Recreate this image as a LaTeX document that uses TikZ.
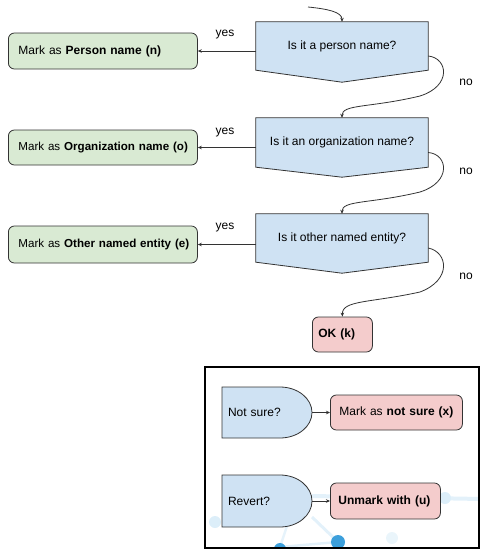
\documentclass[tikz,border=0pt]{standalone}
\usepackage{fontspec}
\setmainfont{Liberation Sans}
\usetikzlibrary{arrows.meta,backgrounds,calc}
\definecolor{qblue}{HTML}{CFE2F3}
\definecolor{qgreen}{HTML}{D9EAD3}
\definecolor{qpink}{HTML}{F4CCCC}
\definecolor{edge}{HTML}{333333}
\definecolor{wmline}{HTML}{DCEEF9}
\definecolor{wmdot}{HTML}{3C9FDB}
\hbadness=10000 \hfuzz=50pt
\begin{document}
\begin{tikzpicture}[x=1pt,y=-1pt,
  font=\fontsize{12}{14}\selectfont,
  arr/.style={draw=edge,line width=0.7pt,-{Stealth[length=4pt,width=3.5pt]}},
  conn/.style={draw=edge,line width=0.8pt,-{Stealth[length=4pt,width=3.5pt]}},
  decision/.style={inner sep=0pt,minimum width=172pt,minimum height=48pt},
  greenbox/.style={draw=edge,fill=qgreen,line width=0.8pt,rounded corners=6pt,
     text width=179pt,inner xsep=5pt,align=left,minimum height=36pt,anchor=west},
  pinkbox/.style={draw=edge,fill=qpink,line width=0.8pt,rounded corners=6pt,
     align=left,minimum height=35pt,anchor=west,inner xsep=4pt},
  half/.style={inner sep=0pt,minimum width=90pt,text width=78pt,align=left},
  lbl/.style={inner sep=0pt}
]
\useasboundingbox (0,0) rectangle (483,549);

% ---- decisions ----
\node[decision] (d1) at (342,46) {Is it a person name?};
\node[decision,minimum height=49pt] (d2) at (342,142.5) {Is it an organization name?};
\node[decision] (d3) at (342,238) {\raisebox{-3pt}{Is it other named entity?}};

\begin{scope}[on background layer]
\foreach \d/\p in {d1/12,d2/10,d3/11}{
  \filldraw[fill=qblue,draw=edge,line width=0.8pt]
    (\d.north west) -- (\d.north east) -- (\d.south east)
    -- ($(\d.south)+(0,\p)$) -- (\d.south west) -- cycle;
}
\end{scope}

% ---- result boxes ----
\node[greenbox] (g1) at (8,51) {\hspace*{5pt}\mbox{Mark as \textbf{Person name (n)}}};
\node[greenbox,minimum height=35pt,font=\fontsize{11.6}{14}\selectfont] (g2) at (8,147.5) {\hspace*{5pt}\mbox{Mark as \textbf{Organization name (o)}}};
\node[greenbox,minimum height=37pt,font=\fontsize{11.6}{14}\selectfont] (g3) at (8,244.5) {\hspace*{5pt}\mbox{Mark as \textbf{Other named entity (e)}}};
\node[pinkbox,text width=52pt] (ok) at (312,334.5) {\hspace*{2pt}\textbf{OK (k)}};

% ---- yes arrows ----
\draw[arr] (d1.west |- g1.east) -- (g1.east);
\draw[arr] (d2.west |- g2.east) -- (g2.east);
\draw[arr] (d3.west |- g3.east) -- (g3.east);
\node[lbl] (y1) at (225,35) {yes};
\node[lbl] (y2) at (225,133) {yes};
\node[lbl] (y3) at (225,228) {yes};

% ---- no connectors ----
\coordinate (start) at (308,7);
\draw[conn] (start) .. controls (328,9) and (342,12) .. (d1.north);
\draw[conn] ([yshift=-10pt]d1.east) .. controls (448,58) and (452,86) .. (420,96)
   .. controls (370,108) and (342,104) .. (d2.north);
\draw[conn] ([yshift=-10pt]d2.east) .. controls (448,154) and (452,182) .. (420,192)
   .. controls (370,204) and (342,200) .. (d3.north);
\draw[conn] ([yshift=-10pt]d3.east) .. controls (448,252) and (452,280) .. (420,292)
   .. controls (370,303) and (342,300) .. (ok.north);
\node[lbl] (n1) at (466,82) {no};
\node[lbl] (n2) at (466,171) {no};
\node[lbl] (n3) at (466,276) {no};

% ---- bottom panel ----
\begin{scope}
\clip (205,367) rectangle (479,548);
\draw[wmline,line width=4pt,opacity=0.8] (312,496) -- (482,499);
\draw[wmline,line width=3pt,opacity=0.8] (312,517) -- (338,542);
\draw[wmline,line width=2.5pt,opacity=0.8] (280,547) -- (338,542);
\draw[wmline,line width=2.5pt,opacity=0.7] (288,523) -- (280,547);
\fill[wmline] (215,522) circle[radius=6pt];
\fill[wmline] (445,498) circle[radius=6pt];
\fill[wmline,opacity=0.6] (392,538) circle[radius=6pt];
\fill[wmdot] (338,542) circle[radius=7pt];
\fill[wmdot] (280,549) circle[radius=6pt];
\end{scope}
\draw[black,line width=2pt] (205,367) rectangle (479,548);

\node[half] (ns) at (267,412.5) {Not sure?};
\node[half] (rv) at (267,501) {Revert?};
\filldraw[fill=qblue,draw=edge,line width=0.8pt]
  (222,387) -- (280,387) arc[start angle=90,end angle=-90,x radius=32pt,y radius=25.5pt]
  -- (222,438) -- cycle;
\filldraw[fill=qblue,draw=edge,line width=0.8pt]
  (222,475) -- (280,475) arc[start angle=90,end angle=-90,x radius=32pt,y radius=26pt]
  -- (222,527) -- cycle;
\node[half] at (ns) {Not sure?};
\node[half] at (rv) {Revert?};

\node[pinkbox,text width=124pt] (px) at (330,412.5) {\hspace*{5pt}Mark as \textbf{not sure (x)}};
\node[pinkbox,text width=102pt,minimum height=36pt] (pu) at (330,501) {\hspace*{4pt}\textbf{Unmark with (u)}};

\draw[arr] (ns.east) -- (px.west);
\draw[arr] (rv.east) -- (pu.west);
\end{tikzpicture}
\end{document}
